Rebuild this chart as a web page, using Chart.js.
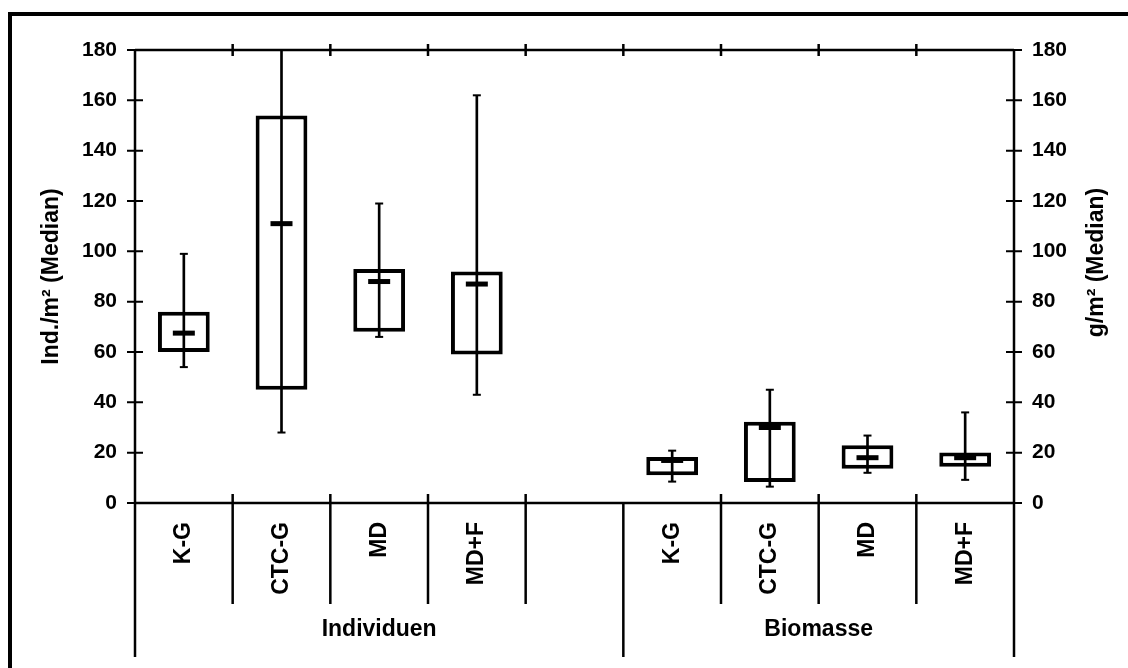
<!DOCTYPE html>
<html>
<head>
<meta charset="utf-8">
<script src="https://cdn.jsdelivr.net/npm/chart.js@4/dist/chart.umd.min.js"></script>
<style>
  body { margin: 0; background: #fff; }
  #wrap { width: 1128px; height: 668px; }
</style>
</head>
<body>
<div id="wrap"><canvas id="boxChart" width="1128" height="668"></canvas></div>
<script>
// Kategorien (leere Spalte trennt die beiden Gruppen)
const kategorien = ["K-G", "CTC-G", "MD", "MD+F", "", "K-G", "CTC-G", "MD", "MD+F"];
const gruppen = ["Individuen", "Biomasse"];
const gruppenVon = [0, 5];
const gruppenBis = [4, 8];

// Individuen (Ind./m²)
const indMin    = [54, 28, 66, 43];
const indQ1     = [60, 45, 68, 59];
const indMedian = [67.5, 111, 88, 87];
const indQ3     = [76, 154, 93, 92];
const indMax    = [99, 190, 119, 162];

// Biomasse (g/m²)
const bioMin    = [8.5, 6.5, 12, 9.2];
const bioQ1     = [11, 8.3, 13.6, 14.4];
const bioMedian = [16.9, 30, 18, 18];
const bioQ3     = [18.3, 32.3, 22.9, 20.1];
const bioMax    = [20.8, 45, 26.8, 36];

const yTicks = [0, 20, 40, 60, 80, 100, 120, 140, 160, 180];
const titelLinks = "Ind./m² (Median)";
const titelRechts = "g/m² (Median)";

// Werte auf die 9 Spalten verteilen
function links(arr) { return arr.concat([null, null, null, null, null]); }
function rechts(arr) { return [null, null, null, null, null].concat(arr); }
function spanne(a, b) { return a.map((v, i) => [v, b[i]]); }

const schrift = "'Liberation Sans', Arial, sans-serif";
Chart.defaults.font.family = schrift;
Chart.defaults.font.weight = "bold";
Chart.defaults.color = "#000";

function boxSet(data, axis) {
  return {
    type: "bar", data: data, yAxisID: axis, grouped: false, order: 3,
    backgroundColor: "#fff", borderColor: "#000", borderWidth: 4, borderSkipped: false,
    categoryPercentage: 0.53, barPercentage: 1
  };
}
function whiskerSet(data, axis) {
  return {
    type: "bar", data: data, yAxisID: axis, grouped: false, order: 2,
    backgroundColor: "#000", borderWidth: 0, barThickness: 2
  };
}
function markSet(data, axis, radius, width) {
  return {
    type: "line", data: data, yAxisID: axis, order: 1, showLine: false,
    pointStyle: "line", pointRadius: radius, pointHoverRadius: radius,
    borderColor: "#000", pointBorderWidth: width, borderWidth: width
  };
}

// Rahmen, Achsenlinien, Kreuz-Ticks, rechter Titel und Gruppenbeschriftung
const achsenPlugin = {
  id: "achsen",
  beforeDraw(chart) {
    const ctx = chart.ctx;
    ctx.save();
    ctx.fillStyle = "#000";
    ctx.fillRect(8, 12, 4, 656);
    ctx.fillRect(8, 12, 1120, 4);
    ctx.restore();
  },
  afterDraw(chart) {
    const ctx = chart.ctx;
    const a = chart.chartArea;
    const x = chart.scales.x, y = chart.scales.y, y2 = chart.scales.y2;
    ctx.save();
    ctx.strokeStyle = "#000";
    ctx.lineWidth = 2.5;
    ctx.beginPath();
    ctx.moveTo(a.left, a.top); ctx.lineTo(a.right, a.top);
    ctx.moveTo(a.left, a.bottom); ctx.lineTo(a.right, a.bottom);
    ctx.moveTo(a.left, a.top); ctx.lineTo(a.left, a.bottom);
    ctx.moveTo(a.right, a.top); ctx.lineTo(a.right, a.bottom);
    ctx.stroke();

    ctx.lineWidth = 2;
    ctx.beginPath();
    y.ticks.forEach(t => {
      const py = y.getPixelForValue(t.value);
      ctx.moveTo(a.left - 8, py); ctx.lineTo(a.left + 8, py);
    });
    y2.ticks.forEach(t => {
      const py = y2.getPixelForValue(t.value);
      ctx.moveTo(a.right - 8, py); ctx.lineTo(a.right + 8, py);
    });
    ctx.stroke();

    const grenzen = [gruppenVon[0]].concat(gruppenBis.map(b => b + 1));
    ctx.lineWidth = 2.5;
    ctx.beginPath();
    for (let i = 0; i <= kategorien.length; i++) {
      const px = x.getPixelForValue(i - 0.5);
      const lang = grenzen.includes(i);
      ctx.moveTo(px, a.bottom - (lang ? 0 : 9));
      ctx.lineTo(px, a.bottom + (lang ? 154 : 101));
      if (i > 0 && i < kategorien.length) {
        ctx.moveTo(px, a.top - 6); ctx.lineTo(px, a.top + 6);
      }
    }
    ctx.stroke();

    ctx.fillStyle = "#000";
    ctx.textAlign = "center";
    ctx.textBaseline = "middle";
    ctx.font = "bold 23px " + schrift;
    gruppen.forEach((g, i) => {
      const px = (x.getPixelForValue(gruppenVon[i] - 0.5) + x.getPixelForValue(gruppenBis[i] + 0.5)) / 2;
      ctx.fillText(g, px, a.bottom + 127);
    });

    // rechter Achsentitel, von unten nach oben gelesen wie links
    ctx.font = "bold 23px " + schrift;
    ctx.translate(y2.right - 31, (a.top + a.bottom) / 2 - 14);
    ctx.rotate(-Math.PI / 2);
    ctx.fillText(titelRechts, 0, 0);
    ctx.restore();
  }
};

const yAchse = (pos, titel, pad, breite) => ({
  position: pos, min: 0, max: 180,
  afterBuildTicks: s => { s.ticks = yTicks.map(v => ({ value: v })); },
  afterFit: s => { s.width = breite; },
  grid: { display: false, drawTicks: true, tickLength: 8 },
  border: { display: false },
  ticks: { font: { size: 21, weight: "bold" }, color: "#000", padding: 10 },
  title: { display: titel !== "", text: titel, font: { size: 23, weight: "bold" }, color: "#000", padding: { top: pad, bottom: 0 } }
});

new Chart(document.getElementById("boxChart"), {
  data: {
    labels: kategorien,
    datasets: [
      boxSet(links(spanne(indQ1, indQ3)), "y"),
      boxSet(rechts(spanne(bioQ1, bioQ3)), "y2"),
      whiskerSet(links(spanne(indMin, indMax)), "y"),
      whiskerSet(rechts(spanne(bioMin, bioMax)), "y2"),
      markSet(links(indMedian), "y", 11, 5),
      markSet(rechts(bioMedian), "y2", 11, 5),
      markSet(links(indMin), "y", 4, 2),
      markSet(links(indMax), "y", 4, 2),
      markSet(rechts(bioMin), "y2", 4, 2),
      markSet(rechts(bioMax), "y2", 4, 2)
    ]
  },
  options: {
    responsive: false,
    animation: false,
    layout: { padding: { top: 50, left: 0, right: 0, bottom: 0 } },
    plugins: { legend: { display: false }, tooltip: { enabled: false } },
    scales: {
      x: {
        type: "category",
        afterFit: s => { s.height = 165; },
        grid: { display: false, drawTicks: false, offset: true },
        border: { display: false },
        ticks: { font: { size: 23, weight: "bold" }, color: "#000", minRotation: 90, maxRotation: 90, padding: 19, autoSkip: false }
      },
      y: yAchse("left", titelLinks, 38, 135),
      y2: yAchse("right", "", 0, 114)
    }
  },
  plugins: [achsenPlugin]
});
</script>
</body>
</html>
